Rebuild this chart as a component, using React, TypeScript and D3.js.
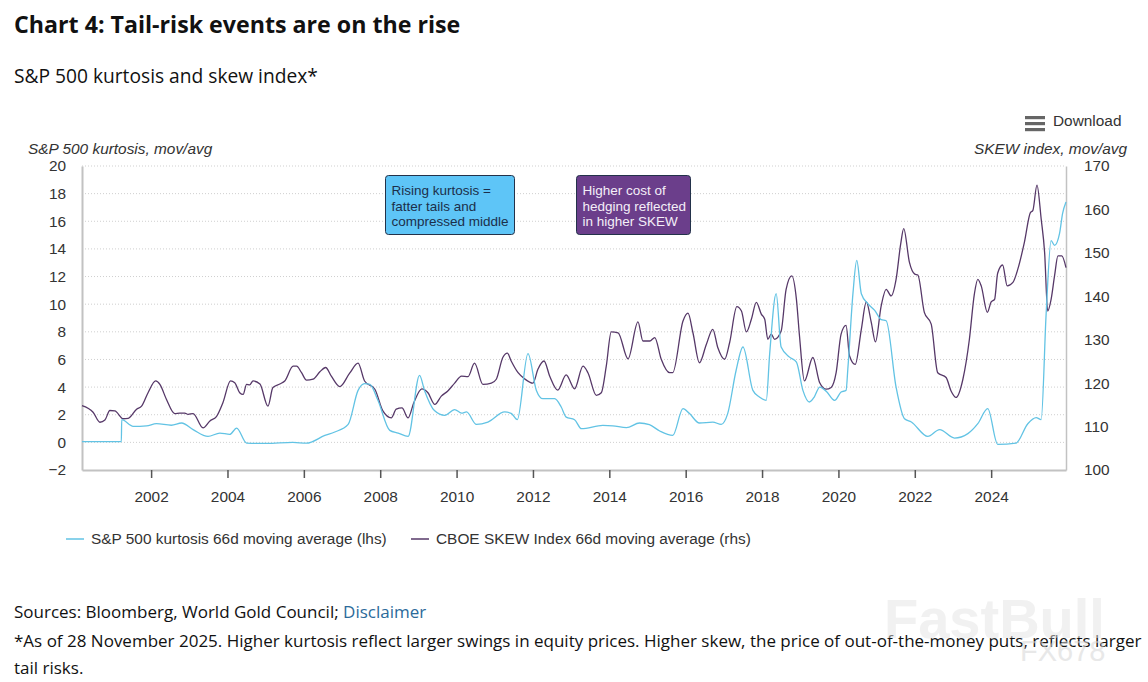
import { useEffect, useRef } from "react";
import * as d3 from "d3";

// ── Tokens ────────────────────────────────────────────────────────────────────

const KURT_COLOR = "#62c3e4";
const SKEW_COLOR = "#563868";
const AXIS = "#c2c2c2";
const GRID = "#cfcfcf";
const TEXT = "#333333";
const ARIAL = "'Liberation Sans', Arial, sans-serif";
const OPEN = "'Open Sans', 'Noto Sans', sans-serif";
const FS = "15.4px";

// ── Data (decimal year, value) ───────────────────────────────────────────────

const LEFT_TICKS = [-2, 0, 2, 4, 6, 8, 10, 12, 14, 16, 18, 20];
const RIGHT_TICKS = [100, 110, 120, 130, 140, 150, 160, 170];
const YEAR_TICKS = [2002, 2004, 2006, 2008, 2010, 2012, 2014, 2016, 2018, 2020, 2022, 2024];

const kurtosis: [number, number][] = [
  [2000.19, 0.05], [2001.22, 0.05], [2001.23, 1.64], [2001.53, 1.16], [2001.88, 1.2],
  [2002.14, 1.35], [2002.53, 1.24], [2002.8, 1.4], [2003.1, 0.92], [2003.49, 0.43],
  [2003.8, 0.67], [2004.06, 0.58], [2004.24, 1.03], [2004.5, -0.05], [2005.02, -0.08],
  [2005.71, 0.0], [2006.07, -0.06], [2006.55, 0.5], [2006.81, 0.75], [2007.16, 1.3],
  [2007.42, 3.76], [2007.59, 4.25], [2007.73, 4.2], [2007.94, 3.04], [2008.25, 0.87],
  [2008.47, 0.67], [2008.73, 0.43], [2009.03, 4.85], [2009.16, 3.76], [2009.42, 2.3],
  [2009.69, 1.95], [2009.95, 2.37], [2010.13, 2.12], [2010.26, 2.2], [2010.52, 1.3],
  [2010.82, 1.47], [2011.26, 2.2], [2011.43, 2.1], [2011.59, 1.64], [2011.87, 6.42],
  [2012.09, 3.76], [2012.26, 3.16], [2012.57, 3.16], [2012.74, 2.56], [2012.87, 1.83],
  [2013.09, 1.64], [2013.27, 0.99], [2013.83, 1.23], [2014.09, 1.2], [2014.45, 1.06],
  [2014.79, 1.4], [2015.05, 1.28], [2015.32, 0.82], [2015.66, 0.5], [2015.93, 2.44],
  [2016.1, 2.08], [2016.36, 1.4], [2016.71, 1.47], [2016.93, 1.3], [2017.1, 2.08],
  [2017.32, 5.2], [2017.5, 6.9], [2017.76, 3.76], [2017.93, 3.28], [2018.11, 3.04],
  [2018.2, 6.42], [2018.37, 10.76], [2018.5, 6.9], [2018.72, 6.17], [2018.9, 5.81],
  [2019.07, 3.76], [2019.24, 2.92], [2019.37, 3.3], [2019.51, 4.0], [2019.68, 3.7],
  [2019.9, 3.04], [2020.07, 3.64], [2020.2, 3.76], [2020.25, 5.45], [2020.38, 10.76],
  [2020.48, 13.17], [2020.6, 10.76], [2020.77, 10.04], [2020.95, 9.55], [2021.12, 8.88],
  [2021.25, 8.8], [2021.51, 4.0], [2021.73, 1.71], [2021.91, 1.47], [2022.34, 0.43],
  [2022.65, 0.92], [2023.04, 0.31], [2023.39, 0.63], [2023.65, 1.35], [2023.91, 2.44],
  [2024.17, -0.14], [2024.65, -0.05], [2024.96, 1.35], [2025.18, 1.79], [2025.31, 1.64],
  [2025.44, 9.31], [2025.57, 14.6], [2025.66, 14.25], [2025.79, 15.1], [2025.87, 16.55],
  [2025.96, 17.39],
];

const skew: [number, number][] = [
  [2000.19, 114.8], [2000.48, 113.3], [2000.66, 111.0], [2000.79, 111.5], [2000.92, 113.7],
  [2001.05, 113.6], [2001.27, 111.8], [2001.4, 111.9], [2001.62, 114.0], [2001.75, 114.7],
  [2001.92, 117.8], [2002.12, 120.5], [2002.23, 119.7], [2002.4, 116.3], [2002.62, 113.0],
  [2002.75, 113.1], [2002.88, 113.1], [2002.97, 112.8], [2003.1, 113.0], [2003.36, 109.7],
  [2003.54, 111.3], [2003.71, 112.3], [2003.88, 115.5], [2004.08, 120.5], [2004.19, 120.1],
  [2004.32, 117.8], [2004.41, 117.4], [2004.5, 119.7], [2004.58, 119.6], [2004.67, 120.5],
  [2004.85, 119.8], [2005.06, 114.7], [2005.19, 119.0], [2005.37, 119.8], [2005.5, 120.5],
  [2005.72, 123.9], [2005.81, 123.9], [2005.94, 122.4], [2006.07, 120.7], [2006.24, 120.9],
  [2006.42, 122.6], [2006.57, 123.6], [2006.72, 121.6], [2006.94, 119.2], [2007.2, 122.3],
  [2007.42, 124.6], [2007.59, 120.5], [2007.86, 118.6], [2008.07, 113.6], [2008.29, 112.0],
  [2008.42, 114.0], [2008.57, 114.3], [2008.73, 112.0], [2008.88, 115.5], [2009.09, 118.7],
  [2009.25, 117.8], [2009.43, 115.1], [2009.6, 117.0], [2009.77, 118.2], [2009.95, 120.0],
  [2010.13, 121.6], [2010.3, 121.5], [2010.47, 124.6], [2010.69, 119.7], [2010.91, 120.0],
  [2011.04, 120.9], [2011.21, 125.9], [2011.33, 126.9], [2011.43, 125.1], [2011.61, 122.4],
  [2011.78, 121.0], [2012.0, 120.0], [2012.13, 123.2], [2012.29, 125.1], [2012.44, 121.6],
  [2012.65, 118.4], [2012.87, 121.9], [2013.09, 118.7], [2013.31, 123.9], [2013.44, 122.4],
  [2013.66, 117.2], [2013.79, 117.8], [2013.92, 123.9], [2014.05, 131.8], [2014.23, 131.6],
  [2014.49, 125.6], [2014.75, 134.1], [2014.88, 129.7], [2015.06, 129.7], [2015.19, 130.5],
  [2015.36, 125.5], [2015.58, 122.4], [2015.66, 122.4], [2015.93, 134.3], [2016.06, 136.1],
  [2016.19, 131.6], [2016.36, 124.7], [2016.54, 128.9], [2016.71, 132.4], [2016.84, 128.2],
  [2017.02, 125.5], [2017.15, 129.3], [2017.34, 137.6], [2017.46, 136.6], [2017.59, 131.8],
  [2017.72, 134.7], [2017.85, 138.6], [2017.98, 135.9], [2018.07, 134.7], [2018.15, 130.1],
  [2018.24, 131.3], [2018.33, 130.1], [2018.5, 132.0], [2018.63, 141.6], [2018.78, 144.7],
  [2018.9, 139.3], [2018.98, 130.9], [2019.11, 120.5], [2019.33, 125.9], [2019.51, 120.1],
  [2019.68, 118.6], [2019.81, 119.0], [2019.94, 122.4], [2020.07, 131.3], [2020.2, 133.3],
  [2020.29, 126.3], [2020.44, 124.3], [2020.6, 132.4], [2020.73, 138.7], [2020.86, 134.0],
  [2020.97, 129.5], [2021.12, 137.8], [2021.25, 141.6], [2021.38, 140.1], [2021.51, 143.9],
  [2021.63, 152.0], [2021.71, 155.6], [2021.86, 147.8], [2022.0, 145.1], [2022.08, 144.9],
  [2022.25, 136.3], [2022.43, 133.6], [2022.6, 122.4], [2022.82, 121.3], [2022.95, 118.2],
  [2023.08, 116.7], [2023.26, 120.9], [2023.43, 130.1], [2023.56, 140.5], [2023.65, 143.9],
  [2023.74, 142.4], [2023.9, 136.3], [2024.0, 138.7], [2024.09, 139.3], [2024.17, 145.3],
  [2024.3, 147.2], [2024.42, 142.4], [2024.57, 143.2], [2024.7, 146.3], [2024.87, 152.4],
  [2025.03, 159.3], [2025.09, 159.7], [2025.2, 165.6], [2025.31, 157.8], [2025.4, 150.1],
  [2025.48, 136.6], [2025.57, 139.3], [2025.66, 144.7], [2025.75, 149.3], [2025.85, 149.3],
  [2025.96, 146.6],
];

const NOTE_KURT = ["Rising kurtosis =", "fatter tails and", "compressed middle"];
const NOTE_SKEW = ["Higher cost of", "hedging reflected", "in higher SKEW"];

// ── Chart ─────────────────────────────────────────────────────────────────────

export default function App() {
  const svgRef = useRef<SVGSVGElement>(null);

  useEffect(() => {
    if (!svgRef.current) return;
    const svg = d3.select(svgRef.current);
    svg.selectAll("*").remove();

    const L = 82, R = 1066, T = 166, B = 470;

    const x = d3.scaleLinear().domain([2000.19, 2025.96]).range([L, R]);
    const yL = d3.scaleLinear().domain([-2, 20]).range([B, T]);
    const yR = d3.scaleLinear().domain([100, 170]).range([B, T]);

    // Headings
    svg.append("text")
      .attr("x", 14).attr("y", 33)
      .attr("font-family", OPEN).attr("font-weight", 700).attr("font-size", "23.2px")
      .attr("fill", "#111")
      .text("Chart 4: Tail-risk events are on the rise");

    svg.append("text")
      .attr("x", 14).attr("y", 83)
      .attr("font-family", OPEN).attr("font-size", "19.2px")
      .attr("fill", "#111")
      .text("S&P 500 kurtosis and skew index*");

    // Download button
    [116, 122, 128].forEach(yy => {
      svg.append("rect")
        .attr("x", 1025).attr("y", yy).attr("width", 20).attr("height", 3.2)
        .attr("fill", "#666");
    });
    svg.append("text")
      .attr("x", 1053).attr("y", 126)
      .attr("font-family", ARIAL).attr("font-size", FS).attr("fill", TEXT)
      .text("Download");

    // Axis titles
    svg.append("text")
      .attr("x", 28).attr("y", 154)
      .attr("font-family", ARIAL).attr("font-style", "italic").attr("font-size", FS)
      .attr("fill", TEXT)
      .text("S&P 500 kurtosis, mov/avg");
    svg.append("text")
      .attr("x", 1127).attr("y", 154).attr("text-anchor", "end")
      .attr("font-family", ARIAL).attr("font-style", "italic").attr("font-size", FS)
      .attr("fill", TEXT)
      .text("SKEW index, mov/avg");

    // Grid lines
    svg.append("g")
      .selectAll("line")
      .data(LEFT_TICKS.filter(d => d > -2))
      .join("line")
      .attr("x1", L).attr("x2", R)
      .attr("y1", d => yL(d)).attr("y2", d => yL(d))
      .attr("stroke", GRID)
      .attr("stroke-width", 1)
      .attr("stroke-dasharray", "1,2");

    // Left axis
    svg.append("g")
      .attr("transform", `translate(${L},0)`)
      .call(d3.axisLeft(yL).tickValues(LEFT_TICKS).tickSize(0).tickPadding(16))
      .call(g => g.select(".domain").attr("stroke", AXIS).attr("stroke-width", 2))
      .call(g => g.selectAll("text")
        .attr("fill", TEXT).attr("font-size", FS).attr("font-family", ARIAL));

    // Right axis
    svg.append("g")
      .attr("transform", `translate(${R},0)`)
      .call(d3.axisRight(yR).tickValues(RIGHT_TICKS).tickSize(0).tickPadding(18))
      .call(g => g.select(".domain").attr("stroke", AXIS).attr("stroke-width", 1.5))
      .call(g => g.selectAll("text")
        .attr("fill", TEXT).attr("font-size", FS).attr("font-family", ARIAL));

    // Bottom axis
    svg.append("g")
      .attr("transform", `translate(0,${B})`)
      .call(d3.axisBottom(x).tickValues(YEAR_TICKS).tickFormat(d3.format("d"))
        .tickSize(8).tickSizeOuter(0).tickPadding(13))
      .call(g => g.select(".domain").attr("stroke", AXIS).attr("stroke-width", 2))
      .call(g => g.selectAll(".tick line").attr("stroke", "#555").attr("stroke-width", 1.5))
      .call(g => g.selectAll("text")
        .attr("fill", TEXT).attr("font-size", FS).attr("font-family", ARIAL));

    // Lines
    const kLine = d3.line<[number, number]>()
      .x(d => x(d[0])).y(d => yL(d[1]))
      .curve(d3.curveMonotoneX);
    const sLine = d3.line<[number, number]>()
      .x(d => x(d[0])).y(d => yR(d[1]))
      .curve(d3.curveMonotoneX);

    svg.append("path")
      .datum(skew)
      .attr("d", sLine)
      .attr("fill", "none")
      .attr("stroke", SKEW_COLOR)
      .attr("stroke-width", 1.3)
      .attr("stroke-linejoin", "round");

    svg.append("path")
      .datum(kurtosis)
      .attr("d", kLine)
      .attr("fill", "none")
      .attr("stroke", KURT_COLOR)
      .attr("stroke-width", 1.3)
      .attr("stroke-linejoin", "round");

    // Annotation boxes
    const note = (bx: number, bw: number, fill: string, color: string, lines: string[]) => {
      svg.append("rect")
        .attr("x", bx).attr("y", 175.5).attr("width", bw).attr("height", 59)
        .attr("rx", 3)
        .attr("fill", fill)
        .attr("stroke", "#23324a")
        .attr("stroke-width", 1);
      lines.forEach((t, i) => {
        svg.append("text")
          .attr("x", bx + 6).attr("y", 195 + i * 15.5)
          .attr("font-family", ARIAL).attr("font-size", "13.5px")
          .attr("fill", color)
          .text(t);
      });
    };
    note(385.5, 129, "#5ec5f7", "#1c2f4a", NOTE_KURT);
    note(576.5, 114, "#6b3e8b", "#f4eef8", NOTE_SKEW);

    // Legend
    const legend = [
      { label: "S&P 500 kurtosis 66d moving average (lhs)", color: KURT_COLOR, x0: 66 },
      { label: "CBOE SKEW Index 66d moving average (rhs)", color: SKEW_COLOR, x0: 411 },
    ];
    legend.forEach(d => {
      svg.append("line")
        .attr("x1", d.x0).attr("x2", d.x0 + 18)
        .attr("y1", 539).attr("y2", 539)
        .attr("stroke", d.color).attr("stroke-width", 1.5);
      svg.append("text")
        .attr("x", d.x0 + 25).attr("y", 544)
        .attr("font-family", ARIAL).attr("font-size", FS).attr("fill", TEXT)
        .text(d.label);
    });

    // Footer
    const src = svg.append("text")
      .attr("x", 14).attr("y", 618)
      .attr("font-family", OPEN).attr("font-size", "17px").attr("fill", "#111");
    src.append("tspan").text("Sources: Bloomberg, World Gold Council; ");
    src.append("tspan").attr("fill", "#2b6a9a").text("Disclaimer");

    svg.append("text")
      .attr("x", 14).attr("y", 647)
      .attr("font-family", OPEN).attr("font-size", "17px").attr("fill", "#111")
      .text("*As of 28 November 2025. Higher kurtosis reflect larger swings in equity prices. Higher skew, the price of out-of-the-money puts, reflects larger");
    svg.append("text")
      .attr("x", 14).attr("y", 674)
      .attr("font-family", OPEN).attr("font-size", "17px").attr("fill", "#111")
      .text("tail risks.");

    // Watermark
    svg.append("text")
      .attr("x", 884).attr("y", 638)
      .attr("font-family", ARIAL).attr("font-weight", 700).attr("font-size", "56px")
      .attr("fill", "#e4e4e4").attr("opacity", 0.5)
      .text("FastBull");
    svg.append("text")
      .attr("x", 1020).attr("y", 661)
      .attr("font-family", ARIAL).attr("font-size", "29px")
      .attr("fill", "#d6d6d6").attr("opacity", 0.55)
      .text("FX678");
  }, []);

  return (
    <svg
      ref={svgRef}
      width={1148}
      height={682}
      style={{ position: "absolute", left: 0, top: 0, background: "#fff" }}
    />
  );
}
